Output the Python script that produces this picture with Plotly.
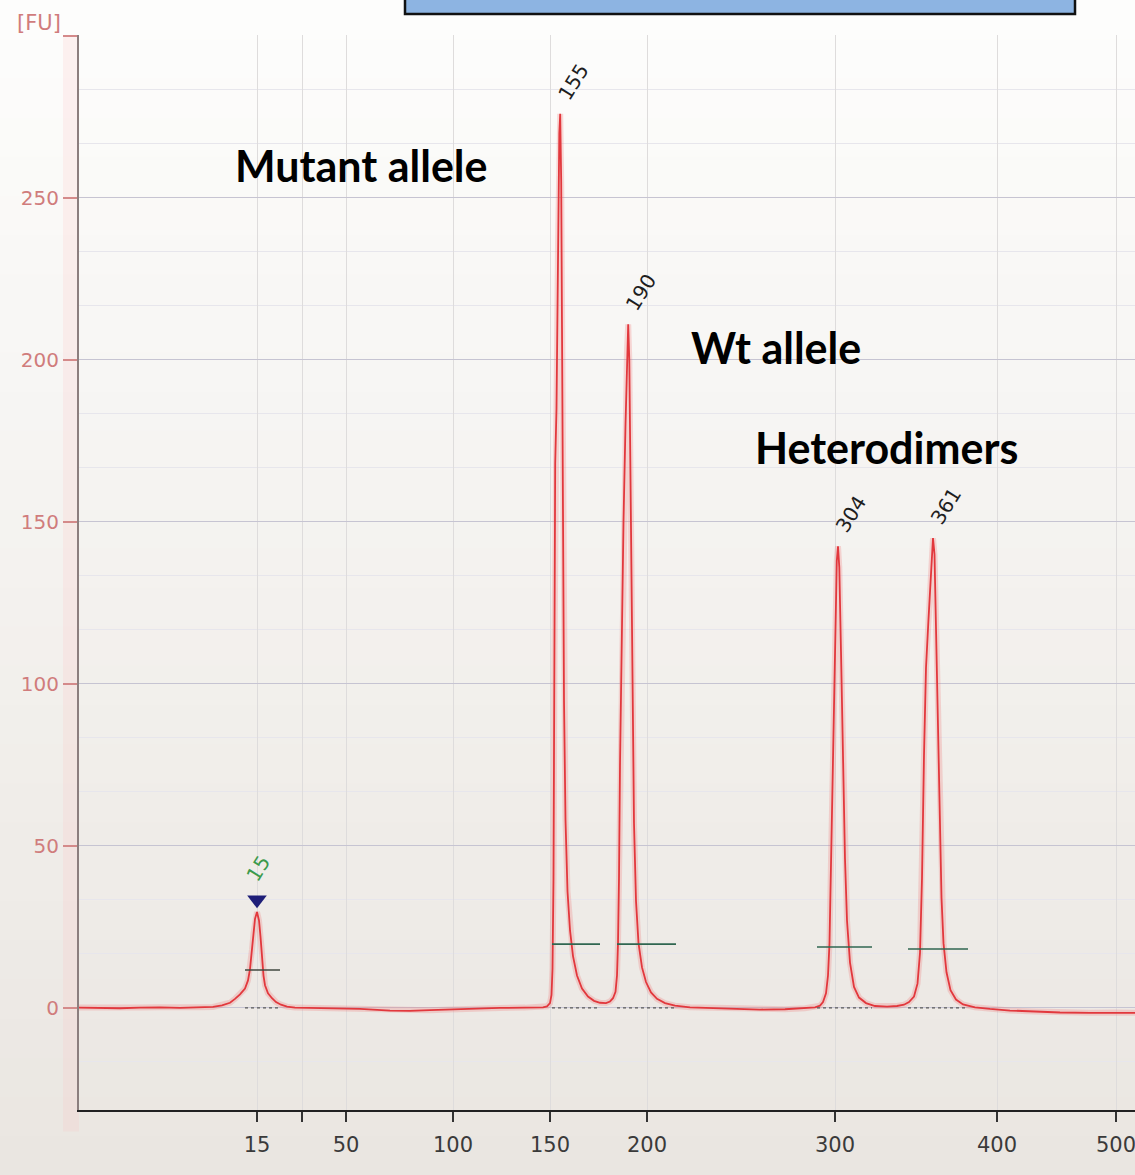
import plotly.graph_objects as go

# ---------------- data ----------------
# ladder: migration time (s) -> size label (bp)
ladder_time = [25.7, 30.2, 34.6, 45.3, 55.0, 64.7, 83.5, 99.7, 111.6]
ladder_label = ["15", "", "50", "100", "150", "200", "300", "400", "500"]

fu_ticks = [0, 50, 100, 150, 200, 250, 300]
fu_labels = ["0", "50", "100", "150", "200", "250", ""]

# electropherogram signal (time s, fluorescence FU)
trace_time = [7.9, 10.0, 12.0, 14.0, 16.0, 18.0, 20.0, 21.3, 22.2, 23.0, 23.5, 24.0, 24.5, 24.8,
              25.0, 25.2, 25.35, 25.5, 25.7, 25.9, 26.05, 26.2, 26.35, 26.5, 26.8, 27.2, 27.6,
              28.1, 28.7, 29.5, 31.0, 33.0, 36.0, 39.0, 41.0, 43.0, 45.0, 47.0, 50.0, 52.5, 54.3,
              54.7, 55.0, 55.15, 55.25, 55.35, 55.45, 55.52, 55.65, 55.8, 55.93, 56.02, 56.12,
              56.2, 56.3, 56.4, 56.55, 56.75, 57.0, 57.3, 57.7, 58.2, 58.8, 59.4, 60.0, 60.6,
              61.0, 61.3,
              61.55, 61.7, 61.8, 61.9, 62.0, 62.15, 62.35, 62.55, 62.7, 62.82, 62.93, 63.05,
              63.15, 63.25, 63.4, 63.6, 63.85, 64.2, 64.6, 65.1, 65.7, 66.5, 67.5, 69.0,
              71.0, 73.5, 76.0, 78.5, 80.5, 81.5,
              82.0, 82.3, 82.6, 82.8, 82.95, 83.1, 83.3, 83.5, 83.68, 83.8, 83.93, 84.1, 84.3,
              84.5, 84.7, 85.0, 85.4, 85.9, 86.6, 87.5, 88.7, 89.7, 90.4,
              90.9, 91.4, 91.75, 92.0, 92.2, 92.4, 92.6, 92.85, 93.1, 93.3, 93.45, 93.6, 93.75,
              93.95, 94.15, 94.35, 94.65, 95.05, 95.6, 96.3, 97.5, 99.0, 101.0, 103.5, 106.0,
              109.0, 111.5, 113.5]
trace_fu = [0.1, 0.0, -0.1, 0.1, 0.2, 0.0, 0.2, 0.3, 0.8, 1.6, 2.8, 4.2, 6.0, 8.5,
            12.0, 18.0, 23.0, 27.5, 29.6, 27.0, 22.0, 15.0, 10.0, 7.0, 4.5, 3.0, 1.8,
            1.0, 0.4, 0.1, 0.0, -0.1, -0.3, -0.8, -0.9, -0.7, -0.5, -0.2, 0.0, 0.1, 0.2,
            0.5, 1.5, 4.0, 12.0, 40.0, 110.0, 168.0, 185.0, 235.0, 270.0, 276.0, 255.0,
            210.0, 150.0, 95.0, 58.0, 36.0, 24.0, 16.0, 10.0, 6.0, 3.5, 2.2, 1.6, 1.5,
            2.0, 3.0,
            5.0, 10.0, 20.0, 40.0, 75.0, 115.0, 150.0, 180.0, 203.0, 211.0, 200.0, 165.0,
            125.0, 90.0, 57.0, 33.0, 20.0, 12.5, 8.0, 4.8, 2.8, 1.5, 0.7, 0.2,
            0.0, -0.3, -0.5, -0.4, -0.1, 0.2,
            0.7, 1.8, 4.5, 10.0, 20.0, 45.0, 85.0, 120.0, 138.0, 142.5, 136.0, 110.0, 75.0,
            46.0, 27.0, 14.0, 6.5, 3.2, 1.5, 0.6, 0.4, 0.6, 1.0,
            1.8, 3.5, 7.5, 17.0, 40.0, 78.0, 105.0, 120.0, 136.0, 145.0, 140.0, 118.0, 90.0,
            58.0, 34.0, 20.0, 11.0, 5.5, 2.6, 1.1, 0.2, -0.3, -0.8, -1.1, -1.4,
            -1.5, -1.4, -1.5]

# called peaks
peak_time = [25.7, 56.02, 62.82, 83.8, 93.3]
peak_fu = [29.6, 276.0, 211.0, 142.5, 145.0]
peak_label = ["15", "155", "190", "304", "361"]

# peak windows (start / end time, marker level)
win_start = [24.5, 55.2, 61.7, 81.7, 90.8]
win_end = [28.0, 60.0, 67.6, 87.2, 96.8]
win_level = [11.7, 19.7, 19.7, 18.8, 18.2]

# text callouts
call_text = ["Mutant allele", "Wt allele", "Heterodimers"]
call_time = [36.15, 77.6, 88.65]
call_fu = [260, 204, 173]

# ---------------- figure ----------------
W, H = 1135, 1175
ML, MR, MT, MB = 79, 0, 35, 65
PW, PH = W - ML - MR, H - MT - MB

fig = go.Figure()

# background gradient bands (paper coords)
nb = 30
top_rgb = (253, 253, 252)
bot_rgb = (234, 230, 225)
shapes = []
for i in range(nb):
    f = i / (nb - 1)
    c = tuple(int(round(top_rgb[k] + (bot_rgb[k] - top_rgb[k]) * f)) for k in range(3))
    py0 = H * i / nb
    py1 = H * (i + 1) / nb + 1
    shapes.append(dict(type="rect", xref="paper", yref="paper",
                       x0=-ML / PW, x1=1.0,
                       y0=(H - MB - py1) / PH, y1=(H - MB - py0) / PH,
                       fillcolor="rgb(%d,%d,%d)" % c, line=dict(width=0), layer="below"))
# pinkish glow near y axis
shapes.append(dict(type="rect", xref="paper", yref="paper",
                   x0=-16 / PW, x1=0, y0=-0.02, y1=1.0,
                   fillcolor="rgba(255,190,190,0.18)", line=dict(width=0), layer="below"))
# cropped blue text box at the top
shapes.append(dict(type="rect", xref="paper", yref="paper",
                   x0=(405 - ML) / PW, x1=(1075 - ML) / PW,
                   y0=(H - MB - 14) / PH, y1=(H - MB + 10) / PH,
                   fillcolor="#8DB4E2", line=dict(color="#111111", width=2.5), layer="above"))

# glow under the trace
fig.add_trace(go.Scatter(x=trace_time, y=trace_fu, mode="lines",
                         line=dict(color="rgba(240,110,110,0.25)", width=6),
                         hoverinfo="skip", showlegend=False))
# electropherogram
fig.add_trace(go.Scatter(x=trace_time, y=trace_fu, mode="lines",
                         line=dict(color="#E2383D", width=1.8),
                         showlegend=False))

# peak windows: baseline dotted + level line
for i in range(len(win_start)):
    fig.add_trace(go.Scatter(x=[win_start[i], win_end[i]], y=[0, 0], mode="lines",
                             line=dict(color="#5a5a5a", width=1.3, dash="dot"),
                             hoverinfo="skip", showlegend=False))
    fig.add_trace(go.Scatter(x=[win_start[i], win_end[i]], y=[win_level[i], win_level[i]],
                             mode="lines",
                             line=dict(color="#2F6650" if i > 0 else "#404840", width=1.6),
                             hoverinfo="skip", showlegend=False))

# lower marker (blue triangle) on the first peak
MARK_OFFSET = 3.8
fig.add_trace(go.Scatter(x=[peak_time[0]], y=[peak_fu[0] + MARK_OFFSET], mode="markers",
                         marker=dict(symbol="triangle-down", size=17, color="#1E1E78",
                                     line=dict(width=0)),
                         hoverinfo="skip", showlegend=False))

annotations = []
for i, lab in enumerate(peak_label):
    if i == 0:
        annotations.append(dict(x=peak_time[i], y=peak_fu[i], text=lab, showarrow=False,
                                textangle=-58, xshift=1, yshift=43,
                                font=dict(family="DejaVu Sans", size=20, color="#3C9A4C")))
    else:
        annotations.append(dict(x=peak_time[i], y=peak_fu[i], text=lab, showarrow=False,
                                textangle=-58, xshift=13, yshift=32,
                                font=dict(family="DejaVu Sans", size=20, color="#1e1e1e")))
for t, x, y in zip(call_text, call_time, call_fu):
    annotations.append(dict(x=x, y=y, text="<b>%s</b>" % t, showarrow=False,
                            font=dict(family="Lato", size=43, color="#000000")))
annotations.append(dict(xref="paper", x=0, xshift=-16, xanchor="right",
                        y=300, yshift=13, text="[FU]", showarrow=False,
                        font=dict(family="DejaVu Sans", size=21, color="#D07C7C")))

fig.update_layout(
    width=W, height=H, autosize=False,
    margin=dict(l=ML, r=MR, t=MT, b=MB, pad=0),
    paper_bgcolor="#F3F0EC", plot_bgcolor="rgba(0,0,0,0)",
    shapes=shapes, annotations=annotations,
    showlegend=False,
)
fig.update_xaxes(
    range=[7.9, 113.5], tickmode="array", tickvals=ladder_time, ticktext=ladder_label,
    showgrid=True, gridcolor="#DEDCDC", gridwidth=1, zeroline=False,
    showline=True, linecolor="#222222", linewidth=2,
    ticks="outside", ticklen=10, tickcolor="#333333", tickwidth=1.5,
    ticklabelstandoff=5, ticklabeloverflow="allow",
    tickfont=dict(family="DejaVu Sans", size=21, color="#3a3a3a"),
)
fig.update_yaxes(
    range=[-31.5, 300.3], tickmode="array", tickvals=fu_ticks, ticktext=fu_labels,
    showgrid=True, gridcolor="#C6C4D2", gridwidth=1, zeroline=False,
    showline=True, linecolor="#8C7E7E", linewidth=2,
    ticks="outside", ticklen=14, tickcolor="#D48A8A", tickwidth=1.5,
    tickfont=dict(family="DejaVu Sans", size=20, color="#D07C7C"),
    minor=dict(tickmode="linear", tick0=0, dtick=50 / 3, showgrid=True,
               gridcolor="#E7E6EC", gridwidth=1, ticklen=0),
)

fig.write_html("out.html")
